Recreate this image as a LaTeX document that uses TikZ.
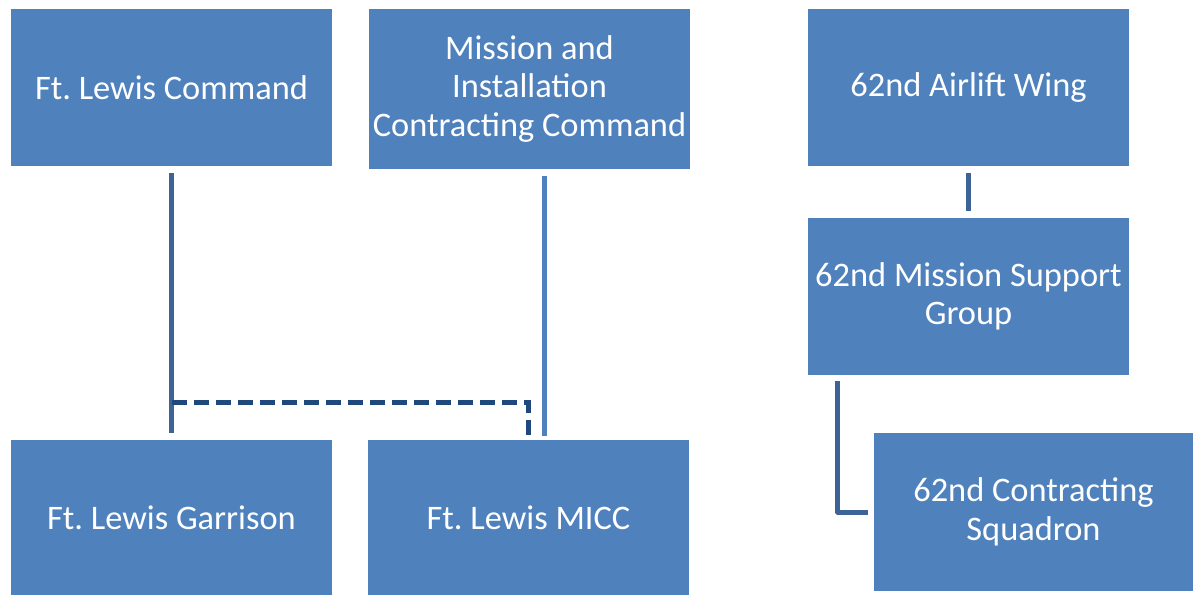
\documentclass[tikz,border=0pt]{standalone}
\usepackage{fontspec}
\setmainfont{Carlito}
\usetikzlibrary{calc}
\definecolor{boxblue}{HTML}{4F81BD}
\definecolor{linedark}{HTML}{3E6497}
\definecolor{navy}{HTML}{1F497D}
\frenchspacing
\begin{document}
\begin{tikzpicture}[x=1pt,y=-1pt,
  orgbox/.style={rectangle, fill=boxblue, draw=none, text=white, align=center,
    minimum width=321pt, minimum height=157pt, inner sep=0pt,
    font=\fontsize{34.4}{38.5}\selectfont},
  conn/.style={line width=5pt, draw=linedark},
  connlight/.style={line width=5pt, draw=boxblue},
  dashconn/.style={line width=5pt, draw=navy, dash pattern=on 15pt off 7pt}]
\useasboundingbox (0,0) rectangle (1193,594);
\node[orgbox] (cmd) at (171.5,87.5) {Ft. Lewis Command};
\node[orgbox, minimum height=160pt] (micc) at (529.5,89) {Mission and\\Installation\\Contracting Command};
\node[orgbox] (aw) at (968.5,87.5) {62nd Airlift Wing};
\node[orgbox] (msg) at (968.5,296.5) {62nd Mission Support\\Group};
\node[orgbox, minimum width=319pt, minimum height=158pt] (cs) at (1033.5,512) {62nd Contracting\\Squadron};
\node[orgbox] (gar) at (171.5,518) {Ft. Lewis Garrison};
\node[orgbox] (miccb) at (528.5,518) {Ft. Lewis MICC};
\coordinate (dj) at (172,402);
\draw[conn, shorten <=7pt, shorten >=6pt] (cmd.south) -- (gar.north);
\draw[connlight, shorten <=7pt, shorten >=3.5pt] ([xshift=15pt]micc.south) -- ([xshift=15pt]micc.south |- miccb.north);
\draw[dashconn] (dj) -| ([yshift=3.5pt]miccb.north);
\draw[conn, shorten <=7pt, shorten >=7pt] (aw.south) -- (msg.north);
\draw[conn, line join=round] ([xshift=30pt,yshift=-6pt]msg.south west) |- ([xshift=-6pt]cs.west);
\end{tikzpicture}
\end{document}
